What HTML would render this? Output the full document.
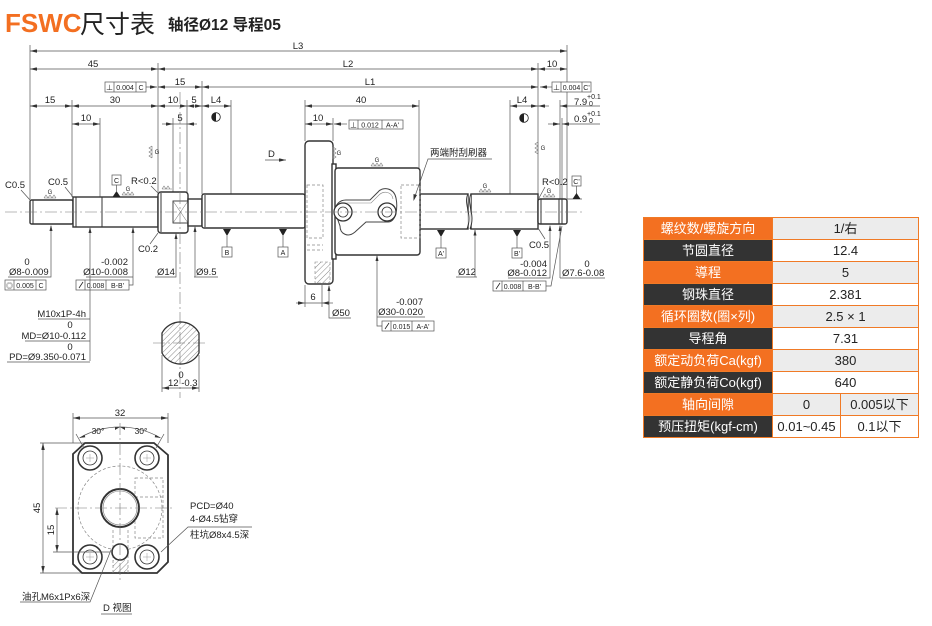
<!DOCTYPE html>
<html><head><meta charset="utf-8">
<style>
body{margin:0;width:932px;height:626px;background:#fff;overflow:hidden;position:relative;font-family:"Liberation Sans","Noto Sans CJK SC",sans-serif}
svg{position:absolute;left:0;top:0}
svg text{font-family:"Liberation Sans","Noto Sans CJK SC",sans-serif;fill:#222}
.t{font-size:9.5px}
.s{font-size:7px}
.dl{stroke:#555;stroke-width:.7;fill:none}
.ob{stroke:#333;stroke-width:1.4;fill:#fff}
.o2{stroke:#333;stroke-width:1;fill:none}
.cl{stroke:#777;stroke-width:.6;stroke-dasharray:12 3 2 3;fill:none}
.hd{stroke:#888;stroke-width:.7;stroke-dasharray:3 2;fill:none}
.tb{position:absolute;left:643px;top:217px;width:276px;height:221px;background:#f07a26}
.c{position:absolute;height:21px;line-height:21px;text-align:center;font-size:13px;white-space:nowrap}
.lo{background:#f37021;color:#fff}
.ld{background:#333;color:#fff}
.vg{background:#ececec;color:#222}
.vw{background:#fff;color:#222}
</style></head><body>
<svg width="932" height="626" viewBox="0 0 932 626" xmlns="http://www.w3.org/2000/svg">
<defs>
<marker id="a" viewBox="0 0 8 4" refX="8" refY="2" markerWidth="7" markerHeight="3.5" orient="auto-start-reverse" markerUnits="userSpaceOnUse"><path d="M0,0 L8,2 L0,4z" fill="#333"/></marker>
<pattern id="h" width="4" height="4" patternUnits="userSpaceOnUse" patternTransform="rotate(45)"><line x1="0" y1="0" x2="0" y2="4" stroke="#555" stroke-width=".7"/></pattern>
</defs>

<!-- Title -->
<text x="5" y="32" style="font-size:26px;font-weight:bold;fill:#f36f21">FSWC</text>
<text x="80" y="33" style="font-size:25px;fill:#222">尺寸表</text>
<text x="168" y="30" style="font-size:15.5px;font-weight:bold;fill:#222">轴径Ø12 导程05</text>

<!-- extension lines -->
<path class="dl" d="M30,45V199 M158,63V192 M72,100V197 M100,118V197 M173,118V200 M187,100V192 M202,81V194 M231,100V194 M305,100V141 M333,118V141 M419,100V168 M510,100V194 M538,63V199 M567,45V199 M560,100V199 M562,118V199"/>

<!-- dimension lines -->
<g class="dl">
<line x1="30" y1="51" x2="567" y2="51" marker-start="url(#a)" marker-end="url(#a)"/>
<line x1="30" y1="69" x2="158" y2="69" marker-start="url(#a)" marker-end="url(#a)"/>
<line x1="158" y1="69" x2="538" y2="69" marker-start="url(#a)" marker-end="url(#a)"/>
<line x1="538" y1="69" x2="567" y2="69" marker-start="url(#a)" marker-end="url(#a)"/>
<line x1="158" y1="87" x2="202" y2="87" marker-start="url(#a)" marker-end="url(#a)"/>
<line x1="202" y1="87" x2="538" y2="87" marker-start="url(#a)" marker-end="url(#a)"/>
<line x1="146" y1="87" x2="157" y2="87" marker-end="url(#a)"/>
<line x1="552" y1="87" x2="540" y2="87" marker-end="url(#a)"/>
<line x1="30" y1="106" x2="72" y2="106" marker-start="url(#a)" marker-end="url(#a)"/>
<line x1="72" y1="106" x2="158" y2="106" marker-start="url(#a)" marker-end="url(#a)"/>
<line x1="158" y1="106" x2="187" y2="106" marker-start="url(#a)" marker-end="url(#a)"/>
<line x1="187" y1="106" x2="202" y2="106" marker-start="url(#a)" marker-end="url(#a)"/>
<line x1="202" y1="106" x2="231" y2="106" marker-start="url(#a)" marker-end="url(#a)"/>
<line x1="305" y1="106" x2="419" y2="106" marker-start="url(#a)" marker-end="url(#a)"/>
<line x1="510" y1="106" x2="538" y2="106" marker-start="url(#a)" marker-end="url(#a)"/>
<line x1="549" y1="106" x2="538" y2="106" marker-end="url(#a)"/>
<line x1="600" y1="106" x2="560" y2="106" marker-end="url(#a)"/>
<line x1="72" y1="124" x2="100" y2="124" marker-start="url(#a)" marker-end="url(#a)"/>
<line x1="162" y1="124" x2="173" y2="124" marker-end="url(#a)"/>
<line x1="197" y1="124" x2="187" y2="124" marker-end="url(#a)"/>
<line x1="173" y1="124" x2="187" y2="124"/>
<line x1="305" y1="124" x2="333" y2="124" marker-start="url(#a)" marker-end="url(#a)"/>
<line x1="347" y1="124" x2="334" y2="124" marker-end="url(#a)"/>
<line x1="548" y1="124" x2="560" y2="124" marker-end="url(#a)"/>
<line x1="600" y1="124" x2="562" y2="124" marker-end="url(#a)"/>
</g>

<!-- dim labels -->
<g class="t" text-anchor="middle">
<text x="298" y="49">L3</text>
<text x="93" y="67">45</text><text x="348" y="67">L2</text><text x="552" y="67">10</text>
<text x="180" y="85">15</text><text x="370" y="85">L1</text>
<text x="50" y="103">15</text><text x="115" y="103">30</text><text x="173" y="103">10</text><text x="194" y="103">5</text><text x="216" y="103">L4</text><text x="361" y="103">40</text><text x="522" y="103">L4</text>
<text x="86" y="121">10</text><text x="180" y="121">5</text><text x="318" y="121">10</text>
</g>
<text class="t" x="574" y="105">7.9</text><text class="s" x="587" y="99">+0.1</text><text class="s" x="589" y="106">0</text>
<text class="t" x="574" y="122">0.9</text><text class="s" x="587" y="116">+0.1</text><text class="s" x="589" y="123">0</text>

<!-- half circles -->
<circle cx="216" cy="117" r="4.3" fill="#fff" stroke="#222" stroke-width=".8"/><path d="M216,112.7 A4.3,4.3 0 0 0 216,121.3Z" fill="#222"/>
<circle cx="524" cy="118" r="4.3" fill="#fff" stroke="#222" stroke-width=".8"/><path d="M524,113.7 A4.3,4.3 0 0 0 524,122.3Z" fill="#222"/>

<!-- tolerance boxes -->
<g stroke="#555" stroke-width=".7" fill="#fff">
<rect x="105" y="82" width="41" height="10"/><path d="M114,82V92M136,82V92"/>
<rect x="552" y="82" width="39" height="10"/><path d="M561,82V92M582,82V92"/>
<rect x="349" y="120" width="54" height="9"/><path d="M358,120V129M382,120V129"/>
<rect x="5" y="280" width="41" height="10"/><path d="M14,280V290M36,280V290"/>
<rect x="76" y="280" width="53" height="10"/><path d="M85,280V290M106,280V290"/>
<rect x="382" y="321" width="52" height="10"/><path d="M391,321V331M412,321V331"/>
<rect x="493" y="281" width="53" height="10"/><path d="M502,281V291M523,281V291"/>
</g>
<g class="s" text-anchor="middle">
<text x="109.5" y="90">⊥</text><text x="125" y="90">0.004</text><text x="141" y="90">C</text>
<text x="556.5" y="90">⊥</text><text x="571.5" y="90">0.004</text><text x="586.5" y="90">C'</text>
<text x="353.5" y="127.5">⊥</text><text x="370" y="127.5">0.012</text><text x="392.5" y="127.5">A-A'</text>
<text x="9.5" y="288">◎</text><text x="25" y="288">0.005</text><text x="41" y="288">C</text>
<text x="95.5" y="288">0.008</text><text x="117.5" y="288">B-B'</text>
<text x="401.5" y="329">0.015</text><text x="423" y="329">A-A'</text>
<text x="512.5" y="289">0.008</text><text x="534.5" y="289">B-B'</text>
</g>
<path d="M79,288L83,282M385,329L389,323M496,289L500,283" stroke="#222" stroke-width=".8"/>

<!-- SHAFT -->
<rect class="ob" x="30" y="200" width="43" height="24" rx="1.5"/>
<rect class="ob" x="73" y="197" width="85" height="30"/>
<path class="o2" d="M102,197V227M76,197V227M33,200V224"/>
<rect class="ob" x="158" y="192" width="30" height="41" rx="3"/>
<path class="o2" d="M161,193V232"/>
<rect x="173" y="201" width="15" height="22" fill="#fff" stroke="#333" stroke-width=".9"/>
<path d="M173,201L188,223M188,201L173,223" stroke="#666" stroke-width=".5"/>
<rect class="ob" x="188" y="199" width="14" height="27"/>
<rect class="ob" x="202" y="194" width="103" height="34" rx="2"/>
<path class="o2" d="M205,195V227"/>
<rect class="ob" x="420" y="194" width="48" height="35"/>
<rect class="ob" x="471" y="194" width="67" height="35"/>
<path d="M468,194 C463,204 473,214 467,229 M471,194 C466,204 476,214 470,229" stroke="#333" stroke-width="1" fill="#fff"/>
<rect class="ob" x="538" y="199" width="29" height="25" rx="2"/>
<path class="o2" d="M559,199V224M562,199V224M541,199V224"/>

<!-- nut -->
<rect class="ob" x="305" y="141" width="28" height="143" rx="4"/>
<rect class="ob" x="332" y="164" width="4" height="95"/>
<rect class="ob" x="335" y="168" width="85" height="87" rx="3"/>
<path d="M335,212 C335,204 340,200 346,200 L370,200 L378,192 C383,186 394,188 396,198 C398,208 396,222 388,222 L366,222 L355,232 C348,238 340,234 340,226 Z" fill="#fff" stroke="#444" stroke-width="1"/>
<path d="M339,212 C339,206 342,203 347,203 L371,203 L379,195 C384,190 392,192 393,199" fill="none" stroke="#888" stroke-width=".6"/>
<circle cx="343" cy="212" r="9" fill="#fff" stroke="#333" stroke-width="1.3"/><circle cx="343" cy="212" r="5" fill="none" stroke="#333" stroke-width=".8"/>
<circle cx="387" cy="212" r="9" fill="#fff" stroke="#333" stroke-width="1.3"/><circle cx="387" cy="212" r="5" fill="none" stroke="#333" stroke-width=".8"/>
<rect class="hd" x="401" y="185" width="19" height="53"/>
<rect class="hd" x="307" y="185" width="16" height="53"/>
<path class="hd" d="M307,245H323M307,250H323"/>
<rect x="315" y="262" width="15" height="21" fill="url(#h)" stroke="#888" stroke-width=".6" stroke-dasharray="3 2"/>

<!-- centerlines -->
<path class="cl" d="M5,212H582 M180,92V398 M153,343H206"/>

<!-- section view -->
<path d="M162,333 A21,21 0 0 1 199,333 L199,353 A21,21 0 0 1 162,353 Z" fill="url(#h)" stroke="#333" stroke-width="1.3"/>
<path class="dl" d="M162,355V392M199,355V392"/>
<line class="dl" x1="162" y1="388" x2="199" y2="388" marker-start="url(#a)" marker-end="url(#a)"/>
<text class="t" x="181" y="378" text-anchor="middle">0</text>
<text class="t" x="168" y="386">12 -0.3</text>

<!-- left labels & leaders -->
<text class="t" x="5" y="188">C0.5</text><path class="dl" d="M21,190L30,200"/>
<text class="t" x="48" y="185">C0.5</text><path class="dl" d="M65,187L73,197"/>
<text class="t" x="131" y="184">R&lt;0.2</text><path class="dl" d="M151,186L158,193"/>
<text class="t" x="138" y="252">C0.2</text><path class="dl" d="M150,244L158,233"/>
<rect x="112" y="175" width="9" height="10" fill="#fff" stroke="#555" stroke-width=".7"/><text class="s" x="116.5" y="183" text-anchor="middle">C</text>
<path d="M116.5,185V191" class="dl"/><path d="M116.5,191L112.5,197H120.5Z" fill="#222"/>

<text class="t" x="27" y="265" text-anchor="middle">0</text>
<text class="t" x="9" y="275">Ø8-0.009</text>
<path class="dl" d="M8,277H51V226"/><path d="M51,225L49.5,231H52.5Z" fill="#333"/>
<text class="t" x="128" y="265" text-anchor="end">-0.002</text>
<text class="t" x="128" y="275" text-anchor="end">Ø10-0.008</text>
<path class="dl" d="M86,277H133V228M129,285H133V277"/><path d="M133,227L131.5,233H134.5Z" fill="#333"/>
<path class="dl" d="M90,228V361"/><path d="M90,227L88.5,233H91.5Z" fill="#333"/>
<text class="t" x="157" y="275">Ø14</text><path class="dl" d="M155,277H176V234"/><path d="M176,233L174.5,239H177.5Z" fill="#333"/>
<text class="t" x="196" y="275">Ø9.5</text><path class="dl" d="M194,277H218M195,277V227"/><path d="M195,226L193.5,232H196.5Z" fill="#333"/>

<!-- datums B A -->
<path d="M227,229L223,229L227,236L231,229Z" fill="#222"/><path class="dl" d="M227,236V247"/>
<rect x="222" y="247" width="10" height="10" fill="#fff" stroke="#555" stroke-width=".7"/><text class="s" x="227" y="255" text-anchor="middle">B</text>
<path d="M279,229L283,236L287,229Z" fill="#222"/><path class="dl" d="M283,236V247"/>
<rect x="278" y="247" width="10" height="10" fill="#fff" stroke="#555" stroke-width=".7"/><text class="s" x="283" y="255" text-anchor="middle">A</text>
<path d="M437,230L441,237L445,230Z" fill="#222"/><path class="dl" d="M441,237V248"/>
<rect x="436" y="248" width="10" height="10" fill="#fff" stroke="#555" stroke-width=".7"/><text class="s" x="441" y="256" text-anchor="middle">A'</text>
<path d="M513,230L517,237L521,230Z" fill="#222"/><path class="dl" d="M517,237V248"/>
<rect x="512" y="248" width="10" height="10" fill="#fff" stroke="#555" stroke-width=".7"/><text class="s" x="517" y="256" text-anchor="middle">B'</text>

<!-- M10 -->
<text class="t" x="86" y="317" text-anchor="end">M10x1P-4h</text><path class="dl" d="M38,319H90"/>
<text class="t" x="70" y="328" text-anchor="middle">0</text>
<text class="t" x="86" y="339" text-anchor="end">MD=Ø10-0.112</text><path class="dl" d="M25,341H90"/>
<text class="t" x="70" y="350" text-anchor="middle">0</text>
<text class="t" x="86" y="360" text-anchor="end">PD=Ø9.350-0.071</text><path class="dl" d="M7,362H90"/>

<!-- middle labels -->
<text class="t" x="268" y="157">D</text><line class="dl" x1="265" y1="160" x2="286" y2="160" marker-end="url(#a)"/>
<path class="dl" d="M305,285V307M322,285V307"/>
<line class="dl" x1="296" y1="303" x2="305" y2="303" marker-end="url(#a)"/>
<line class="dl" x1="333" y1="303" x2="322" y2="303" marker-end="url(#a)"/>
<line class="dl" x1="305" y1="303" x2="322" y2="303"/>
<text class="t" x="313" y="300" text-anchor="middle">6</text>
<path class="dl" d="M329,286V318H351"/><path d="M329,285L327.5,291H330.5Z" fill="#333"/>
<text class="t" x="332" y="316">Ø50</text>
<text class="t" x="423" y="305" text-anchor="end">-0.007</text>
<text class="t" x="423" y="315" text-anchor="end">Ø30-0.020</text>
<path class="dl" d="M377,317H425M377,256V326H382"/><path d="M377,255L375.5,261H378.5Z" fill="#333"/>
<text class="t" x="430" y="156">两端附刮刷器</text>
<path class="dl" d="M492,159H428L414,199"/><path d="M413.5,201L413.5,194L417,195Z" fill="#333"/>

<!-- right labels -->
<text class="t" x="458" y="275">Ø12</text><path class="dl" d="M456,277H477M475,277V230"/><path d="M475,229.5L473.5,235.5H476.5Z" fill="#333"/>
<text class="t" x="529" y="248">C0.5</text><path class="dl" d="M545,239L538,228"/>
<text class="t" x="542" y="185">R&lt;0.2</text><path class="dl" d="M545,187L539,198"/>
<text class="t" x="547" y="267" text-anchor="end">-0.004</text>
<text class="t" x="547" y="276" text-anchor="end">Ø8-0.012</text>
<path class="dl" d="M508,278H550V226M546,286H551L562,226"/><path d="M550,225L548.5,231H551.5Z" fill="#333"/>
<text class="t" x="587" y="267" text-anchor="middle">0</text>
<text class="t" x="562" y="276">Ø7.6-0.08</text>
<path class="dl" d="M560,278H605M560,278V226"/><path d="M560,225L558.5,231H561.5Z" fill="#333"/>
<rect x="572" y="176" width="9" height="10" fill="#fff" stroke="#555" stroke-width=".7"/><text class="s" x="576.5" y="184" text-anchor="middle">C'</text>
<path class="dl" d="M576.5,186V194M567,199H582"/><path d="M576.5,193L572.5,199H580.5Z" fill="#222"/>

<!-- surface symbols -->
<g stroke="#777" stroke-width=".6" fill="none">
<path d="M44,198h12M44,198l2,-3l2,3l2,-3l2,3l2,-3l2,3"/>
<path d="M122,195h12M122,195l2,-3l2,3l2,-3l2,3l2,-3l2,3"/>
<path d="M162,189h10M162,189l2,-3l2,3l2,-3l2,3"/>
<path d="M371,166h12M371,166l2,-3l2,3l2,-3l2,3l2,-3l2,3"/>
<path d="M479,192h12M479,192l2,-3l2,3l2,-3l2,3l2,-3l2,3"/>
<path d="M543,197h12M543,197l2,-3l2,3l2,-3l2,3l2,-3l2,3"/>
<path d="M152,146v12M152,146l-3,2l3,2l-3,2l3,2l-3,2l3,2"/>
<path d="M333,147v12M333,147l3,2l-3,2l3,2l-3,2l3,2l-3,2"/>
<path d="M538,142v12M538,142l-3,2l3,2l-3,2l3,2l-3,2l3,2"/>
</g>
<g style="font-size:6px" text-anchor="middle" fill="#555">
<text x="50" y="194">G</text><text x="128" y="191">G</text><text x="377" y="162">G</text><text x="485" y="188">G</text><text x="549" y="193">G</text>
<text x="157" y="154">G</text><text x="339" y="155">G</text><text x="543" y="150">G</text>
</g>

<!-- FLANGE VIEW D -->
<path d="M85,443 L154,443 L168,455 L168,562 L157,573 L82,573 L73,564 L73,454 Z" fill="#fff" stroke="#333" stroke-width="1.8"/>
<circle cx="120" cy="508" r="42" class="hd"/>
<path class="hd" d="M135,478H163V538H135ZM135,497H163"/>
<path class="hd" d="M113,530V573M128,530V573"/>
<rect x="113" y="560" width="15" height="13" fill="url(#h)" stroke="none"/>
<circle cx="120" cy="508" r="19" fill="#fff" stroke="#333" stroke-width="2"/>
<circle cx="120" cy="508" r="17" fill="none" stroke="#777" stroke-width=".6"/>
<circle cx="120" cy="552" r="8" fill="#fff" stroke="#333" stroke-width="1.6"/>
<g fill="#fff" stroke="#333">
<circle cx="90" cy="458" r="12" stroke-width="1.6"/><circle cx="90" cy="458" r="7" stroke-width=".8"/>
<circle cx="147" cy="458" r="12" stroke-width="1.6"/><circle cx="147" cy="458" r="7" stroke-width=".8"/>
<circle cx="90" cy="557" r="12" stroke-width="1.6"/><circle cx="90" cy="557" r="7" stroke-width=".8"/>
<circle cx="147" cy="557" r="12" stroke-width="1.6"/><circle cx="147" cy="557" r="7" stroke-width=".8"/>
</g>
<path d="M86,458h8M90,454v8M143,458h8M147,454v8M86,557h8M90,553v8M143,557h8M147,553v8" stroke="#999" stroke-width=".5"/>
<path class="cl" d="M55,508H174 M120,423V583"/>
<!-- dims -->
<path class="dl" d="M73,443V413M168,443V413M40,443H84M40,573H81M53,552H110"/>
<line class="dl" x1="73" y1="418" x2="168" y2="418" marker-start="url(#a)" marker-end="url(#a)"/>
<text class="t" x="120" y="416" text-anchor="middle">32</text>
<line class="dl" x1="43" y1="443" x2="43" y2="573" marker-start="url(#a)" marker-end="url(#a)"/>
<text class="t" transform="translate(40,508) rotate(-90)" text-anchor="middle">45</text>
<line class="dl" x1="57" y1="508" x2="57" y2="552" marker-start="url(#a)" marker-end="url(#a)"/>
<text class="t" transform="translate(54,530) rotate(-90)" text-anchor="middle">15</text>
<path class="dl" d="M79.5,437.9 A81,81 0 0 1 120,427 A81,81 0 0 1 160.5,437.9"/>
<path class="dl" d="M84,448L76,434M156,448L164,434"/>
<path d="M79.5,437.9l5,-3.2l0.8,2.6z M160.5,437.9l-5,-3.2l-0.8,2.6z M120,427l-5,0.4l0,2.6z M120,427l5,0.4l0,2.6z" fill="#333"/>
<text style="font-size:8.5px" x="98" y="434" text-anchor="middle">30°</text>
<text style="font-size:8.5px" x="141" y="434" text-anchor="middle">30°</text>
<text class="t" x="190" y="509">PCD=Ø40</text>
<text class="t" x="190" y="522">4-Ø4.5钻穿</text>
<text class="t" x="190" y="538">柱坑Ø8x4.5深</text>
<path class="dl" d="M252,527H188L161,552"/>
<text class="t" x="22" y="600">油孔M6x1Px6深</text>
<path class="dl" d="M20,602H90L111,550"/>
<text class="t" x="103" y="611">D 视图</text>
<path class="dl" d="M101,614H132"/>
</svg>

<div class="tb">
<div class="c lo" style="left:1px;top:1px;width:128px">螺纹数/螺旋方向</div><div class="c vg" style="left:130px;top:1px;width:145px">1/右</div>
<div class="c ld" style="left:1px;top:23px;width:128px">节圆直径</div><div class="c vw" style="left:130px;top:23px;width:145px">12.4</div>
<div class="c lo" style="left:1px;top:45px;width:128px">導程</div><div class="c vg" style="left:130px;top:45px;width:145px">5</div>
<div class="c ld" style="left:1px;top:67px;width:128px">钢珠直径</div><div class="c vw" style="left:130px;top:67px;width:145px">2.381</div>
<div class="c lo" style="left:1px;top:89px;width:128px">循环圈数(圈×列)</div><div class="c vg" style="left:130px;top:89px;width:145px">2.5 × 1</div>
<div class="c ld" style="left:1px;top:111px;width:128px">导程角</div><div class="c vw" style="left:130px;top:111px;width:145px">7.31</div>
<div class="c lo" style="left:1px;top:133px;width:128px">额定动负荷Ca(kgf)</div><div class="c vg" style="left:130px;top:133px;width:145px">380</div>
<div class="c ld" style="left:1px;top:155px;width:128px">额定静负荷Co(kgf)</div><div class="c vw" style="left:130px;top:155px;width:145px">640</div>
<div class="c lo" style="left:1px;top:177px;width:128px">轴向间隙</div><div class="c vg" style="left:130px;top:177px;width:67px">0</div><div class="c vg" style="left:198px;top:177px;width:77px">0.005以下</div>
<div class="c ld" style="left:1px;top:199px;width:128px">预压扭矩(kgf-cm)</div><div class="c vw" style="left:130px;top:199px;width:67px">0.01~0.45</div><div class="c vw" style="left:198px;top:199px;width:77px">0.1以下</div>
</div>
</body></html>
